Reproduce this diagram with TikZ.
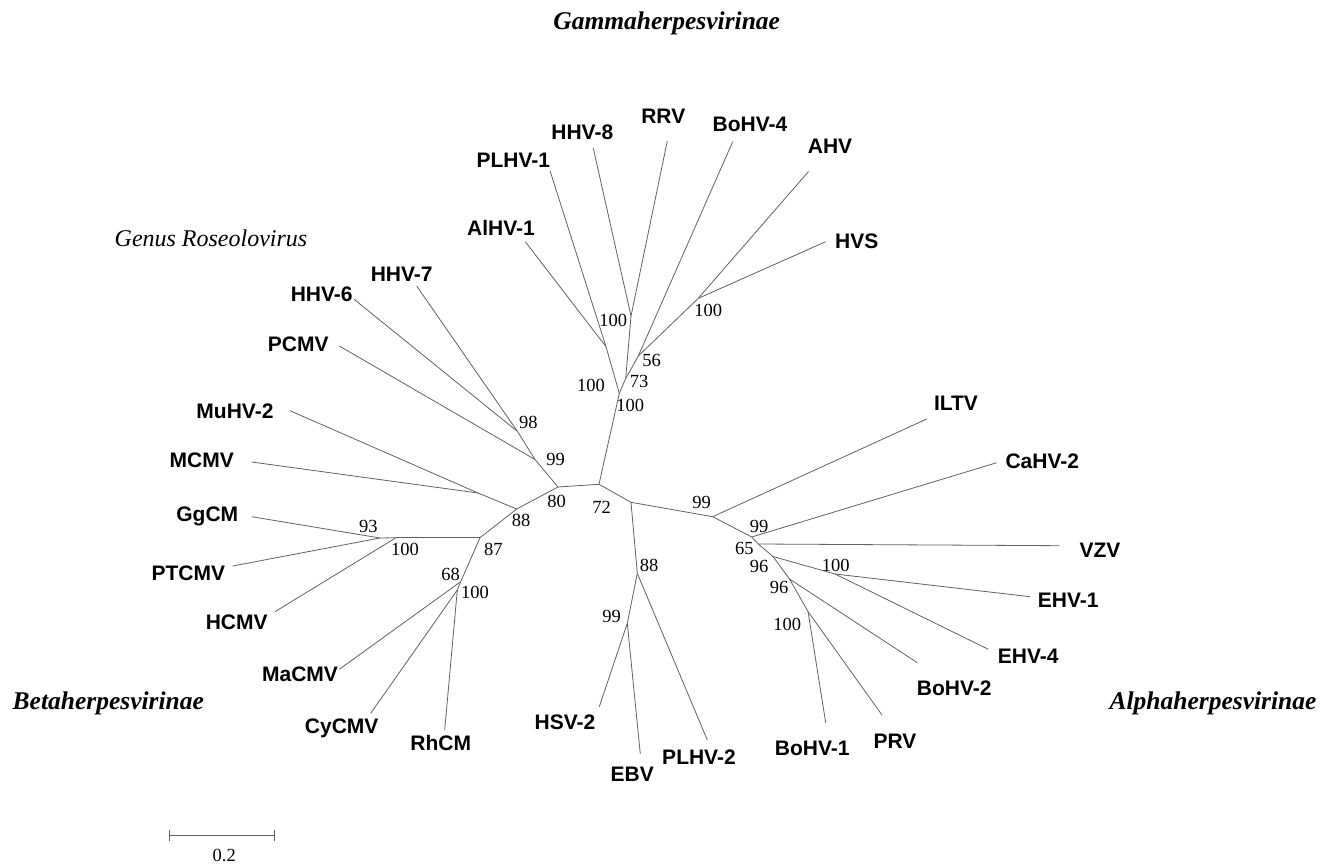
\documentclass[tikz,border=0pt]{standalone}
\usepackage{fontspec}
\setmainfont{Liberation Serif}
\setsansfont{Liberation Sans}
\begin{document}
\begin{tikzpicture}[x=1pt,y=-1pt,
 br/.style={draw=black!62, line width=0.8pt},
 leaf/.style={font=\sffamily\bfseries\fontsize{21}{21}\selectfont, inner sep=0pt},
 bs/.style={font=\fontsize{18.5}{18.5}\selectfont, inner sep=0pt},
 ttl/.style={font=\bfseries\itshape\fontsize{25.5}{25.5}\selectfont, inner sep=0pt},
 gen/.style={font=\itshape\fontsize{24}{24}\selectfont, inner sep=0pt}]
\useasboundingbox (0,0) rectangle (1331,864);
% internal nodes
\coordinate (C1) at (599,484.3);
\coordinate (C2) at (631,502.3);
\coordinate (A) at (619.3,393.3);
\coordinate (G1) at (606,346.7);
\coordinate (N73) at (625.7,378.5);
\coordinate (HR) at (631,316);
\coordinate (N56) at (638.3,356);
\coordinate (AH) at (698.3,298.3);
\coordinate (N80) at (558,487);
\coordinate (N99r) at (535,459.5);
\coordinate (N98) at (517.5,431.5);
\coordinate (N88b) at (516.7,509);
\coordinate (M) at (478,493);
\coordinate (N87) at (480,537.7);
\coordinate (N100g) at (396,537.7);
\coordinate (N93) at (380,538);
\coordinate (N68) at (460.7,581.7);
\coordinate (N100c) at (457.3,590);
\coordinate (N88a) at (637.3,573.3);
\coordinate (N99e) at (627.3,623.3);
\coordinate (N99a) at (712.7,516.7);
\coordinate (N99b) at (751.7,537);
\coordinate (N65) at (758.3,544);
\coordinate (N96a) at (773,556.5);
\coordinate (N100e) at (835,574);
\coordinate (N96b) at (789.5,579);
\coordinate (N100p) at (808,611.5);
% tips
\coordinate (tAlHV1) at (525.3,241.7);
\coordinate (tPLHV1) at (550,170.7);
\coordinate (tHHV8) at (593.3,148.3);
\coordinate (tRRV) at (667.3,141);
\coordinate (tBoHV4) at (732.7,141.7);
\coordinate (tAHV) at (808.5,171.5);
\coordinate (tHVS) at (825.7,241.7);
\coordinate (tHHV7) at (416.7,286);
\coordinate (tHHV6) at (354,299.3);
\coordinate (tPCMV) at (339.3,346);
\coordinate (tMuHV2) at (290,410.7);
\coordinate (tMCMV) at (251.7,462);
\coordinate (tGgCM) at (251.7,516.7);
\coordinate (tPTCMV) at (232.7,566);
\coordinate (tHCMV) at (275,611.7);
\coordinate (tMaCMV) at (339.3,669.3);
\coordinate (tCyCMV) at (370.7,713.3);
\coordinate (tRhCM) at (444.7,730);
\coordinate (tHSV2) at (599.3,706.7);
\coordinate (tEBV) at (640.3,754);
\coordinate (tPLHV2) at (707.3,740);
\coordinate (tBoHV1) at (825.7,722.7);
\coordinate (tPRV) at (882,715);
\coordinate (tBoHV2) at (917.3,662.7);
\coordinate (tEHV4) at (988.3,649.3);
\coordinate (tEHV1) at (1030,596.7);
\coordinate (tVZV) at (1059.3,545.7);
\coordinate (tCaHV2) at (996.7,462.7);
\coordinate (tILTV) at (926.7,419);
% branches
\draw[br] (C1) -- (C2);
\draw[br] (C1) -- (A);
\draw[br] (C1) -- (N80);
% gamma
\draw[br] (A) -- (G1);
\draw[br] (G1) -- (tAlHV1);
\draw[br] (G1) -- (tPLHV1);
\draw[br] (A) -- (N73);
\draw[br] (N73) -- (HR);
\draw[br] (HR) -- (tHHV8);
\draw[br] (HR) -- (tRRV);
\draw[br] (N73) -- (N56);
\draw[br] (N56) -- (tBoHV4);
\draw[br] (N56) -- (AH);
\draw[br] (AH) -- (tAHV);
\draw[br] (AH) -- (tHVS);
% beta
\draw[br] (N80) -- (N99r);
\draw[br] (N99r) -- (tPCMV);
\draw[br] (N99r) -- (N98);
\draw[br] (N98) -- (tHHV6);
\draw[br] (N98) -- (tHHV7);
\draw[br] (N80) -- (N88b);
\draw[br] (N88b) -- (M);
\draw[br] (M) -- (tMuHV2);
\draw[br] (M) -- (tMCMV);
\draw[br] (N88b) -- (N87);
\draw[br] (N87) -- (N100g);
\draw[br] (N100g) -- (N93);
\draw[br] (N93) -- (tGgCM);
\draw[br] (N93) -- (tPTCMV);
\draw[br] (N100g) -- (tHCMV);
\draw[br] (N87) -- (N68);
\draw[br] (N68) -- (tMaCMV);
\draw[br] (N68) -- (N100c);
\draw[br] (N100c) -- (tCyCMV);
\draw[br] (N100c) -- (tRhCM);
% EBV group
\draw[br] (C2) -- (N88a);
\draw[br] (N88a) -- (tPLHV2);
\draw[br] (N88a) -- (N99e);
\draw[br] (N99e) -- (tHSV2);
\draw[br] (N99e) -- (tEBV);
% alpha
\draw[br] (C2) -- (N99a);
\draw[br] (N99a) -- (tILTV);
\draw[br] (N99a) -- (N99b);
\draw[br] (N99b) -- (tCaHV2);
\draw[br] (N99b) -- (N65);
\draw[br] (N65) -- (tVZV);
\draw[br] (N65) -- (N96a);
\draw[br] (N96a) -- (N100e);
\draw[br] (N100e) -- (tEHV1);
\draw[br] (N100e) -- (tEHV4);
\draw[br] (N96a) -- (N96b);
\draw[br] (N96b) -- (tBoHV2);
\draw[br] (N96b) -- (N100p);
\draw[br] (N100p) -- (tBoHV1);
\draw[br] (N100p) -- (tPRV);
% leaf labels
\node[leaf] (lHHV8) at (582.3,132.3) {HHV-8};
\node[leaf] (lRRV) at (663.3,116.7) {RRV};
\node[leaf] (lBoHV4) at (750,124.3) {BoHV-4};
\node[leaf] (lAHV) at (830,146) {AHV};
\node[leaf] (lHVS) at (856.7,241.7) {HVS};
\node[leaf] (lPLHV1) at (513.3,160) {PLHV-1};
\node[leaf] (lAlHV1) at (501,228.3) {AlHV-1};
\node[leaf] (lHHV7) at (401.7,274) {HHV-7};
\node[leaf] (lHHV6) at (321.7,294) {HHV-6};
\node[leaf] (lPCMV) at (298.3,344) {PCMV};
\node[leaf] (lMuHV2) at (235,411.7) {MuHV-2};
\node[leaf] (lMCMV) at (201.7,460) {MCMV};
\node[leaf] (lGgCM) at (207.3,516.7) {GgCM};
\node[leaf] (lPTCMV) at (188.3,573.3) {PTCMV};
\node[leaf] (lHCMV) at (236.7,622.3) {HCMV};
\node[leaf] (lMaCMV) at (300,674) {MaCMV};
\node[leaf] (lCyCMV) at (341.7,728.3) {CyCMV};
\node[leaf] (lRhCM) at (440.7,743.3) {RhCM};
\node[leaf] (lHSV2) at (565,722.7) {HSV-2};
\node[leaf] (lEBV) at (632.3,774) {EBV};
\node[leaf] (lPLHV2) at (699,756.7) {PLHV-2};
\node[leaf] (lBoHV1) at (812.3,748.3) {BoHV-1};
\node[leaf] (lPRV) at (895,741.7) {PRV};
\node[leaf] (lBoHV2) at (954.3,688.3) {BoHV-2};
\node[leaf] (lEHV4) at (1028.3,656) {EHV-4};
\node[leaf] (lEHV1) at (1068.3,600) {EHV-1};
\node[leaf] (lVZV) at (1100,550) {VZV};
\node[leaf] (lCaHV2) at (1042.3,461) {CaHV-2};
\node[leaf] (lILTV) at (956,403.3) {ILTV};
% bootstrap values
\node[bs] (b1) at (613.3,320) {100};
\node[bs] (b2) at (591,385) {100};
\node[bs] (b3) at (639,381.7) {73};
\node[bs] (b4) at (651.7,360.7) {56};
\node[bs] (b5) at (630.3,405.7) {100};
\node[bs] (b6) at (708.3,310) {100};
\node[bs] (b7) at (528.3,422.3) {98};
\node[bs] (b8) at (555.7,459) {99};
\node[bs] (b9) at (556.7,501.7) {80};
\node[bs] (b10) at (521,520) {88};
\node[bs] (b11) at (368.3,526.7) {93};
\node[bs] (b12) at (405,549.3) {100};
\node[bs] (b13) at (493.3,549) {87};
\node[bs] (b14) at (450.7,574.3) {68};
\node[bs] (b15) at (475,592.3) {100};
\node[bs] (b16) at (601.7,507.3) {72};
\node[bs] (b17) at (649,565.3) {88};
\node[bs] (b18) at (611.7,616.7) {99};
\node[bs] (b19) at (701.7,502.3) {99};
\node[bs] (b20) at (759,526) {99};
\node[bs] (b21) at (744.3,548.3) {65};
\node[bs] (b22) at (759,566.7) {96};
\node[bs] (b23) at (779,587.7) {96};
\node[bs] (b24) at (787.3,624) {100};
\node[bs] (b25) at (835.7,565) {100};
% titles
\node[ttl] (tg) at (666.7,23) {Gammaherpesvirinae};
\node[ttl] (tb) at (108.3,703) {Betaherpesvirinae};
\node[ttl] (ta) at (1213,703) {Alphaherpesvirinae};
\node[gen] (gr) at (211,238) {Genus Roseolovirus};
% scale bar
\coordinate (sL) at (169.3,835.7);
\coordinate (sR) at (274.3,835.7);
\draw[br] (sL) -- (sR);
\draw[br] ([yshift=-5.5pt]sL) -- ([yshift=6pt]sL);
\draw[br] ([yshift=-5.5pt]sR) -- ([yshift=6pt]sR);
\node[bs] (sc) at (224.3,855.7) {0.2};
\end{tikzpicture}
\end{document}
